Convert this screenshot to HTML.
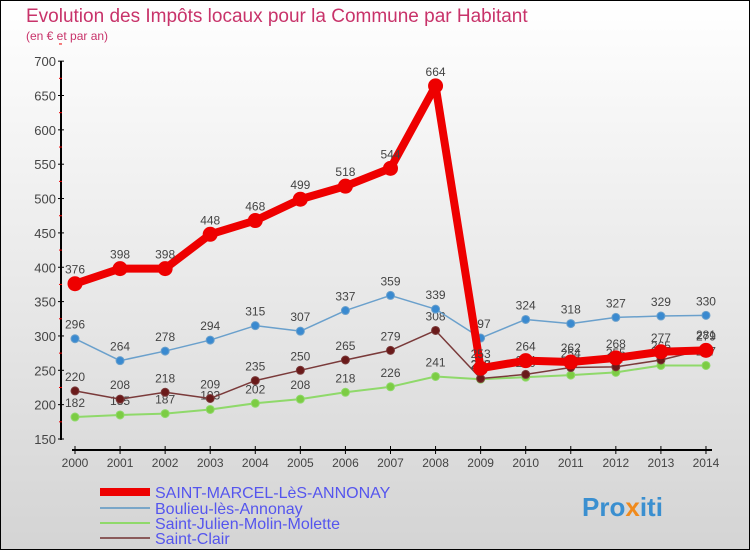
<!DOCTYPE html>
<html><head><meta charset="utf-8"><style>
body{margin:0}
svg text{font-family:"Liberation Sans",sans-serif}
</style></head><body>
<svg id="c" width="750" height="550" xmlns="http://www.w3.org/2000/svg">
<defs><linearGradient id="bg" x1="0" y1="0" x2="0" y2="1"><stop offset="0" stop-color="#ffffff"/><stop offset="1" stop-color="#d4d4d4"/></linearGradient></defs>
<rect x="0" y="0" width="750" height="550" fill="url(#bg)" stroke="#000" stroke-width="2"/>
<text x="26" y="22" font-size="19" fill="#c8336a">Evolution des Impôts locaux pour la Commune par Habitant</text>
<text x="26" y="40" font-size="12" fill="#c8336a">(en € et par an)</text>
<g id="axes"></g><g id="series"></g>
<g>
<line x1="100" y1="492" x2="150" y2="492" stroke="#e00" stroke-width="8"/>
<text x="155" y="498" font-size="16" fill="#5555ee">SAINT-MARCEL-LèS-ANNONAY</text>
<line x1="100" y1="508" x2="150" y2="508" stroke="#7aa6c8" stroke-width="2"/>
<text x="155" y="514" font-size="16" fill="#5555ee">Boulieu-lès-Annonay</text>
<line x1="100" y1="523" x2="150" y2="523" stroke="#8fd96a" stroke-width="2"/>
<text x="155" y="529" font-size="16" fill="#5555ee">Saint-Julien-Molin-Molette</text>
<line x1="100" y1="538" x2="150" y2="538" stroke="#8a5a5a" stroke-width="2"/>
<text x="155" y="544" font-size="16" fill="#5555ee">Saint-Clair</text>
</g>
<text x="582" y="516" font-size="26" font-weight="bold" fill="#3a8fd0">Pro<tspan fill="#f08a1c">x</tspan>iti</text>
</svg>
<script>
const years=[2000,2001,2002,2003,2004,2005,2006,2007,2008,2009,2010,2011,2012,2013,2014];
const yTicks=[150,200,250,300,350,400,450,500,550,600,650,700];
const stMarcel=[376,398,398,448,468,499,518,544,664,253,264,262,268,277,279];
const boulieu=[296,264,278,294,315,307,337,359,339,297,324,318,327,329,330];
const stJulien=[182,185,187,193,202,208,218,226,241,237,240,243,247,257,257];
const stClair=[220,208,218,209,235,250,265,279,308,238,244,254,255,265,281];
const NS="http://www.w3.org/2000/svg";
const X=i=>75+i*45.07, Y=v=>439-(v-150)*0.687;
function mk(t,a,p){const e=document.createElementNS(NS,t);for(const k in a)e.setAttribute(k,a[k]);p.appendChild(e);return e;}
const ax=document.getElementById('axes');
let l=mk('line',{x1:61,y1:61,x2:61,y2:440,stroke:'#000','stroke-width':2},ax);


yTicks.forEach(v=>{
 mk('line',{x1:58,y1:Y(v),x2:64,y2:Y(v),stroke:'#000'},ax);
 mk('line',{x1:59,y1:Y(v+25),x2:62,y2:Y(v+25),stroke:'#e00'},ax);
 const t=mk('text',{x:56,y:Y(v)+5,'text-anchor':'end','font-size':13,fill:'#444'},ax);
 t.textContent=v;
 
 
});
l=mk('line',{x1:72,y1:450,x2:712,y2:450,stroke:'#000','stroke-width':2},ax);


years.forEach((y,i)=>{
 mk('line',{x1:X(i),y1:446,x2:X(i),y2:454,stroke:'#000'},ax);
 const t=mk('text',{x:X(i),y:467,'text-anchor':'middle','font-size':12,fill:'#444'},ax);
 t.textContent=y;
 
 
});
const sg=document.getElementById('series');
function draw(data,color,w,r,name,dot){
 const g=mk('g',{},sg);
 
 
 const p=mk('polyline',{points:data.map((v,i)=>X(i)+','+Y(v)).join(' '),fill:'none',stroke:color,'stroke-width':w,'stroke-linejoin':'round'},g);
 
 
 data.forEach((v,i)=>{
  const c=mk('circle',{cx:X(i),cy:Y(v),r:r,fill:dot,stroke:color,'stroke-width':1},g);
  
  
  const t=mk('text',{x:X(i),y:Y(v)-10,'text-anchor':'middle','font-size':12,fill:'#444'},g);
  t.textContent=v;
  
  
 });
}
draw(stJulien,'#8fd96a',2,4,'saint-julien','#7ccc44');
draw(stClair,'#7a3a3a',1.5,4,'saint-clair','#6a1a1a');
draw(boulieu,'#6aa0cc',1.5,4,'boulieu','#3a8ad0');
draw(stMarcel,'#ee0000',8,7,'saint-marcel','#ee0000');
</script>
</body></html>
